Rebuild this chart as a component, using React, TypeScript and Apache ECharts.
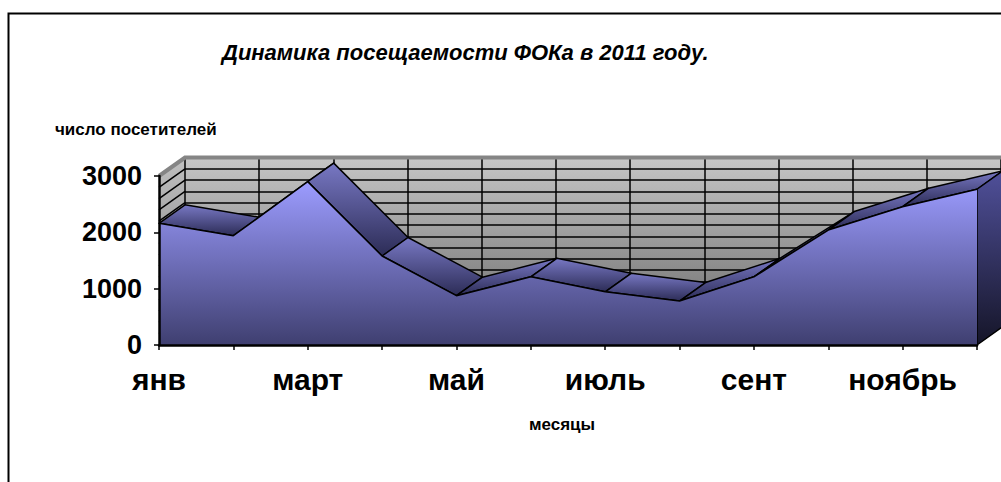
import React, { useEffect, useRef } from 'react';
import * as echarts from 'echarts';

// ---- data ----
const months = ['янв', 'фев', 'март', 'апр', 'май', 'июнь', 'июль', 'авг', 'сент', 'окт', 'ноябрь', 'дек'];
const visits = [2160, 1940, 2900, 1580, 875, 1210, 945, 780, 1210, 2040, 2455, 2765];
const Y_MIN = 0;
const Y_MAX = 3000;
const Y_STEP = 1000;
const WALL_STEP = 200;
const TITLE = 'Динамика посещаемости ФОКа в 2011 году.';
const Y_NAME = 'число посетителей';
const X_NAME = 'месяцы';

// ---- layout / style ----
const FONT = '"Liberation Sans", Arial, sans-serif';
const DX = 26;
const DY = -18.5;
const GRID = { left: 159, top: 176, width: 818, height: 169 };

const lin = (a: string, b: string) => ({
  type: 'linear', x: 0, y: 0, x2: 0, y2: 1,
  colorStops: [{ offset: 0, color: a }, { offset: 1, color: b }],
});
const frontGrad = lin('#9c9cff', '#3f3f70');
const topGrad = lin('#7878c4', '#2c2c56');
const rightGrad = lin('#50509a', '#151528');
const wallGrad = lin('#c6c6c6', '#6e6e6e');
const sideGrad = lin('#c0c0c0', '#777777');

const segments = months.slice(0, -1).map((_, i) => [i, visits[i], visits[i + 1]]);
const off = (p: number[]) => [p[0] + DX, p[1] + DY];

export default function App() {
  const ref = useRef<HTMLDivElement>(null);
  useEffect(() => {
    if (!ref.current) return;
    const chart = echarts.init(ref.current, undefined, { renderer: 'svg' });
    const last = months.length - 1;

    const wallItem = (params: any, api: any) => {
      const bl = api.coord([0, Y_MIN]);
      const tl = api.coord([0, Y_MAX]);
      const br = api.coord([last, Y_MIN]);
      const tr = api.coord([last, Y_MAX]);
      const children: any[] = [
        { type: 'polygon', shape: { points: [off(tl), off(tr), off(br), off(bl)] }, style: { fill: wallGrad } },
        { type: 'polygon', shape: { points: [bl, tl, off(tl), off(bl)] }, style: { fill: sideGrad } },
      ];
      for (let v = Y_MIN; v < Y_MAX; v += WALL_STEP) {
        const p = api.coord([0, v]);
        const q = off(p);
        children.push({ type: 'line', shape: { x1: p[0], y1: p[1], x2: q[0], y2: q[1] }, style: { stroke: '#000', lineWidth: 1.5 } });
      }
      return { type: 'group', children };
    };

    const bandItem = (params: any, api: any) => {
      const tl = api.coord([0, Y_MAX]);
      const tr = api.coord([last, Y_MAX]);
      return {
        type: 'polyline',
        shape: { points: [tl, off(tl), off(tr)] },
        style: { stroke: '#858585', lineWidth: 4, fill: 'none', lineJoin: 'miter' },
      };
    };

    const surfaceItem = (params: any, api: any) => {
      const i = api.value(0);
      const a = api.coord([i, api.value(1)]);
      const b = api.coord([i + 1, api.value(2)]);
      const slope = (b[1] - a[1]) / (b[0] - a[0]);
      const facing = slope > DY / DX;
      const children: any[] = [
        {
          type: 'polygon', z2: facing ? 2 : 1,
          shape: { points: [a, b, off(b), off(a)] },
          style: { fill: topGrad, stroke: '#000', lineWidth: 1.5, lineJoin: 'round' },
        },
      ];
      if (i + 1 === last) {
        const base = api.coord([i + 1, Y_MIN]);
        children.push({
          type: 'polygon', z2: 3,
          shape: { points: [b, base, off(base), off(b)] },
          style: { fill: rightGrad, stroke: '#000', lineWidth: 1.5, lineJoin: 'round' },
        });
      }
      return { type: 'group', children };
    };

    chart.setOption({
      animation: false,
      title: {
        text: TITLE, left: 222, top: 41, padding: 0,
        textStyle: { fontSize: 22, fontWeight: 'bold', fontStyle: 'italic', color: '#000', fontFamily: FONT },
      },
      grid: [
        { ...GRID, containLabel: false },
        { left: GRID.left + DX, top: GRID.top + DY, width: GRID.width, height: GRID.height, containLabel: false },
      ],
      xAxis: [
        {
          type: 'category', gridIndex: 0, data: months, boundaryGap: false, z: 4,
          axisLine: { show: true, lineStyle: { color: '#000', width: 2.5 } },
          axisTick: { show: true, interval: 0, length: 5, lineStyle: { color: '#000', width: 1.5 } },
          axisLabel: { interval: 1, fontSize: 30, fontWeight: 'bold', color: '#000', margin: 19, fontFamily: FONT },
          splitLine: { show: false },
        },
        {
          type: 'category', gridIndex: 1, data: months, boundaryGap: false, z: 0.5,
          axisLine: { show: false }, axisTick: { show: false }, axisLabel: { show: false },
          splitLine: { show: true, interval: 0, lineStyle: { color: '#000', width: 1.5 } },
        },
      ],
      yAxis: [
        {
          type: 'value', gridIndex: 0, min: Y_MIN, max: Y_MAX, interval: Y_STEP, z: 4,
          axisLine: { show: true, lineStyle: { color: '#000', width: 2.5 } },
          axisTick: { show: true, length: 5, lineStyle: { color: '#000', width: 1.5 } },
          axisLabel: { fontSize: 27, fontWeight: 'bold', color: '#000', margin: 17, fontFamily: FONT, formatter: (v: number) => String(v) },
          splitLine: { show: false },
        },
        {
          type: 'value', gridIndex: 1, min: Y_MIN, max: Y_MAX, interval: WALL_STEP, z: 0.5,
          axisLine: { show: false }, axisTick: { show: false }, axisLabel: { show: false },
          splitLine: { show: true, lineStyle: { color: '#000', width: 1.5 } },
        },
      ],
      graphic: [
        { type: 'rect', silent: true, z: -10, shape: { x: 8.5, y: 13.5, width: 1100, height: 600 }, style: { fill: 'none', stroke: '#000', lineWidth: 2 } },
        { type: 'text', silent: true, x: 55, y: 129, style: { text: Y_NAME, fontSize: 17, fontWeight: 'bold', fontFamily: FONT, fill: '#000', align: 'left', verticalAlign: 'middle' } },
        { type: 'text', silent: true, x: 562, y: 424, style: { text: X_NAME, fontSize: 17, fontWeight: 'bold', fontFamily: FONT, fill: '#000', align: 'center', verticalAlign: 'middle' } },
      ],
      series: [
        { type: 'custom', name: 'walls', xAxisIndex: 0, yAxisIndex: 0, z: 0, silent: true, data: [[0, Y_MAX]], renderItem: wallItem },
        { type: 'custom', name: 'band', xAxisIndex: 0, yAxisIndex: 0, z: 1, silent: true, data: [[0, Y_MAX]], renderItem: bandItem },
        { type: 'custom', name: 'surfaces', xAxisIndex: 0, yAxisIndex: 0, z: 2, silent: true, data: segments, encode: { x: 0, y: 1 }, renderItem: surfaceItem },
        {
          type: 'line', name: 'посетители', xAxisIndex: 0, yAxisIndex: 0, z: 3, silent: true,
          data: visits, symbol: 'none',
          lineStyle: { color: '#000', width: 1.5 },
          areaStyle: { color: frontGrad, opacity: 1 },
        },
      ],
    });
    return () => chart.dispose();
  }, []);
  return <div ref={ref} style={{ position: 'absolute', left: 0, top: 0, width: 1001, height: 482 }} />;
}
